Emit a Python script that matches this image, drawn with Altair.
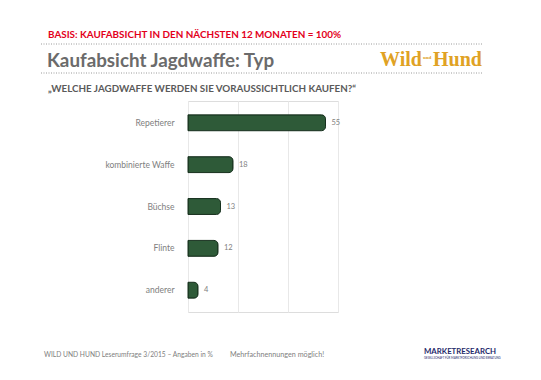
import altair as alt
import pandas as pd

categories = ["Repetierer", "kombinierte Waffe", "Büchse", "Flinte", "anderer"]
values = [55, 18, 13, 12, 4]

df = pd.DataFrame({"cat": categories, "val": values})
FONT = "Lato"
one = pd.DataFrame({"a": [0]})

base = alt.Chart(df)
bars = base.mark_bar(color="#2E5A38", stroke="#16301d", strokeWidth=1,
                     cornerRadiusEnd=4).encode(
    x=alt.X("val:Q", scale=alt.Scale(domain=[0, 60], nice=False),
            axis=alt.Axis(values=[0, 20, 40, 60], labels=False, ticks=False,
                          domain=False, title=None, grid=True,
                          gridColor="#e8e8e8", gridWidth=1)),
    y=alt.Y("cat:N", sort=categories,
            scale=alt.Scale(paddingInner=0.62, paddingOuter=0.33),
            axis=alt.Axis(title=None, ticks=False, domain=False, labelFont=FONT,
                          labelFontSize=8.5, labelColor="#808080", labelPadding=14)),
)
labels = base.mark_text(align="left", dx=6, font=FONT, fontSize=7.5,
                        color="#808080").encode(
    x="val:Q", y=alt.Y("cat:N", sort=categories), text=alt.Text("val:Q"))


def txt(s, x, y, size, color, weight="normal", font=FONT, align="left"):
    return alt.Chart(one).mark_text(text=s, align=align, baseline="alphabetic",
                                    font=font, fontSize=size, color=color,
                                    fontWeight=weight).encode(
        x=alt.value(x), y=alt.value(y))


def dotted(y):
    return alt.Chart(one).mark_rule(color="#9a9a9a", strokeDash=[1, 1.5],
                                    strokeWidth=1).encode(
        x=alt.value(-147), x2=alt.value(294), y=alt.value(y))


layers = [
    bars, labels,
    txt("BASIS: KAUFABSICHT IN DEN NÄCHSTEN 12 MONATEN = 100%", -140, -63, 9.9,
        "#e3001b", "bold"),
    dotted(-57),
    txt("Kaufabsicht Jagdwaffe: Typ", -141, -34, 18.8, "#6b6b6b", "bold"),
    txt("Wild", 192, -35, 20, "#E0A224", "bold", "Liberation Serif"),
    txt("und", 235, -42, 5, "#E0A224", "bold", "Liberation Serif"),
    txt("Hund", 294, -35, 20, "#E0A224", "bold", "Liberation Serif", "right"),
    dotted(-28),
    txt("„WELCHE JAGDWAFFE WERDEN SIE VORAUSSICHTLICH KAUFEN?“", -140, -9, 9.8,
        "#5a5a5a", "bold"),
    txt("WILD UND HUND Leserumfrage 3/2015 – Angaben in %", -144, 256, 6.7, "#808080"),
    txt("Mehrfachnennungen möglich!", 42, 256, 7.2, "#808080"),
    txt("MARKETRESEARCH", 236, 253, 7.8, "#1f2a6b", "bold"),
    txt("GESELLSCHAFT FÜR MARKTFORSCHUNG UND BERATUNG", 236, 258, 2.8, "#1f2a6b"),
]

chart = alt.layer(*layers).properties(
    width=150, height=211,
    autosize=alt.AutoSizeParams(type="none"),
    padding={"left": 180, "top": 93, "right": 195, "bottom": 60},
).configure_view(stroke=None).configure(background="white")

chart.save("out.html", embed_options={"renderer": "svg", "actions": False})
